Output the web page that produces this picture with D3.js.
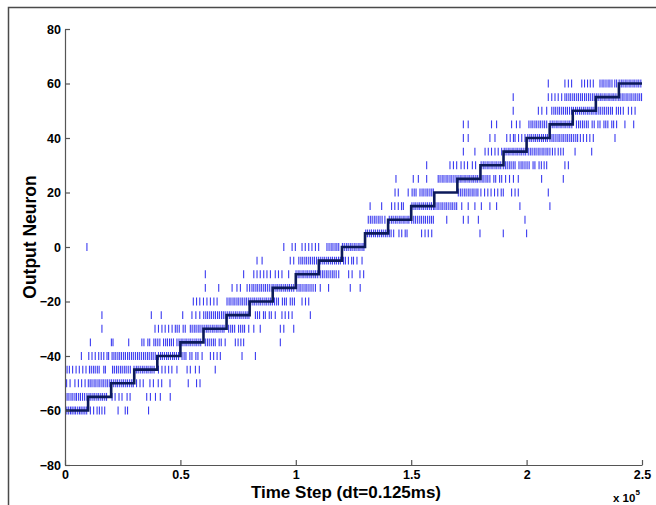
<!DOCTYPE html>
<html>
<head>
<meta charset="utf-8">
<script src="https://cdn.jsdelivr.net/npm/d3@7/dist/d3.min.js"></script>
<style>
  html, body { margin: 0; padding: 0; background: #fff; }
  svg { display: block; }
  text { font-family: "Liberation Sans", Arial, Helvetica, sans-serif; font-weight: bold; fill: #000; }
</style>
</head>
<body>
<svg id="chart" width="656" height="505"></svg>
<script>
// Spike times per output neuron, in thousands of time steps
const n_m60 = [0.8, 1.6, 2.4, 3.1, 3.9, 4.6, 5.5, 6.3, 7.0, 7.8, 8.6, 9.4, 11.0, 12.4, 13.9, 14.9, 16.0, 17.2, 23.0, 26.1, 27.1, 36.2];
const n_m55 = [0.9, 1.7, 2.6, 3.4, 4.3, 5.0, 5.9, 6.7, 7.6, 8.5, 9.5, 10.4, 11.2, 12.1, 12.9, 13.8, 14.6, 15.5, 16.3, 17.2, 18.0, 20.4, 21.7, 23.4, 24.7, 26.9, 28.2, 35.4, 37.0, 39.2, 41.3, 45.6];
const n_m50 = [0.7, 2.2, 4.3, 5.8, 7.2, 8.7, 10.1, 10.9, 11.7, 12.6, 13.4, 14.3, 15.1, 16.0, 16.8, 17.7, 18.5, 19.4, 20.2, 21.1, 22.0, 22.8, 23.7, 24.6, 25.4, 26.3, 27.1, 28.0, 28.9, 29.6, 31.0, 32.5, 33.9, 36.8, 38.3, 40.4, 41.9, 45.5, 53.4, 57.0, 58.5];
const n_m45 = [0.9, 1.9, 3.3, 4.8, 6.2, 7.7, 9.1, 10.6, 11.4, 12.3, 13.1, 14.0, 14.8, 16.8, 17.5, 20.6, 21.4, 22.3, 23.1, 24.0, 24.8, 25.7, 26.5, 27.4, 28.3, 29.9, 30.9, 31.7, 32.6, 33.5, 34.3, 35.2, 36.0, 36.9, 37.7, 38.6, 40.5, 42.0, 43.4, 44.9, 46.3, 48.5, 52.9, 54.3, 56.5, 58.2, 65.1];
const n_m40 = [7.1, 10.3, 11.7, 13.1, 14.6, 15.7, 16.8, 18.2, 18.9, 20.4, 21.2, 22.0, 22.9, 23.7, 24.5, 25.4, 26.2, 27.1, 27.9, 28.8, 29.6, 30.5, 31.4, 32.2, 33.1, 34.0, 34.8, 35.7, 36.5, 37.4, 38.2, 39.1, 40.5, 41.4, 42.2, 43.1, 44.0, 44.8, 45.7, 46.6, 47.4, 48.3, 49.2, 50.7, 51.6, 52.4, 54.1, 55.0, 56.7, 57.6, 59.4, 63.0, 64.4, 65.9, 67.3, 76.7, 82.5];
const n_m35 = [11.0, 20.1, 20.8, 27.6, 33.3, 34.2, 35.9, 36.7, 38.5, 39.3, 40.2, 41.1, 42.7, 43.6, 44.4, 45.3, 46.1, 47.0, 48.5, 49.4, 50.3, 51.1, 52.0, 52.8, 53.7, 54.5, 55.4, 56.3, 57.1, 58.0, 58.8, 60.8, 61.7, 62.5, 63.4, 64.3, 65.1, 66.8, 67.7, 69.4, 73.8, 75.0, 76.2, 77.4, 93.3];
const n_m30 = [16.0, 39.0, 40.5, 42.0, 43.4, 44.9, 46.4, 47.8, 48.6, 49.5, 51.2, 52.1, 54.3, 55.1, 56.0, 56.8, 57.7, 58.5, 59.4, 60.3, 61.2, 62.0, 62.9, 63.8, 64.6, 65.5, 66.3, 67.2, 68.1, 68.9, 70.9, 71.8, 72.6, 73.5, 75.2, 76.1, 77.0, 77.8, 79.6, 81.8, 84.6, 93.3, 94.8, 99.1];
const n_m25 = [16.0, 37.4, 41.7, 51.0, 55.0, 56.7, 58.4, 60.1, 61.0, 61.8, 62.7, 63.5, 64.4, 65.2, 66.1, 66.9, 67.8, 68.6, 69.4, 70.3, 71.2, 72.0, 72.9, 73.8, 74.6, 75.5, 76.3, 77.2, 78.1, 78.9, 79.7, 82.5, 83.4, 84.3, 86.0, 86.8, 88.5, 89.4, 91.1, 94.0, 95.4, 96.9, 98.4, 106.3];
const n_m20 = [55.6, 57.0, 58.4, 60.0, 61.5, 63.0, 64.5, 65.9, 70.2, 71.1, 71.9, 72.8, 73.6, 74.5, 75.3, 76.2, 77.0, 77.9, 78.7, 79.6, 80.5, 81.4, 82.2, 83.1, 84.0, 84.8, 85.7, 86.6, 87.4, 88.3, 89.1, 89.9, 90.8, 91.7, 92.5, 94.2, 95.1, 95.9, 97.6, 98.5, 99.4, 102.7, 104.2, 105.6];
const n_m15 = [60.8, 66.6, 72.4, 74.5, 76.0, 78.9, 80.0, 81.0, 81.8, 82.7, 83.5, 84.4, 85.2, 86.1, 86.9, 87.8, 88.7, 89.7, 90.5, 91.4, 92.2, 93.1, 93.9, 94.8, 95.6, 96.5, 97.3, 98.2, 99.1, 100.5, 101.4, 102.2, 103.1, 104.0, 104.8, 105.7, 106.6, 107.5, 108.5, 110.6, 114.2, 123.6, 127.9];
const n_m10 = [60.8, 77.4, 81.8, 83.2, 84.6, 86.1, 87.5, 89.0, 91.1, 92.5, 94.0, 96.9, 100.1, 101.0, 101.8, 102.7, 103.5, 104.4, 105.2, 106.1, 106.9, 107.8, 108.6, 109.5, 110.6, 111.5, 112.3, 113.2, 114.0, 114.9, 115.8, 116.6, 117.5, 118.6, 122.9, 124.4, 127.8, 129.4];
const n_m5 = [83.2, 85.4, 97.6, 99.1, 101.3, 102.2, 103.0, 103.9, 104.7, 105.6, 106.4, 107.3, 108.1, 109.0, 109.9, 110.8, 111.7, 112.5, 113.4, 114.2, 115.1, 115.9, 116.8, 117.6, 118.5, 119.3, 120.7, 121.5, 122.8, 124.2, 125.0, 126.5, 128.7];
const n_0 = [9.5, 94.8, 98.4, 99.8, 102.7, 104.1, 105.6, 107.0, 108.5, 109.9, 113.5, 114.4, 115.3, 116.1, 117.0, 117.8, 118.6, 120.2, 121.0, 121.9, 122.7, 123.6, 124.4, 125.3, 126.1, 127.0, 127.8, 128.7, 129.5];
const n_5 = [130.3, 131.1, 132.0, 132.8, 133.7, 134.5, 135.4, 136.2, 137.1, 137.9, 138.8, 139.6, 140.5, 141.3, 142.4, 144.7, 145.9, 147.4, 148.2, 154.5, 156.0, 157.4, 158.9, 179.8, 189.9, 200.0];
const n_10 = [131.4, 132.3, 133.1, 134.0, 134.8, 135.7, 136.5, 137.4, 138.6, 140.5, 141.4, 142.2, 143.1, 143.9, 144.8, 145.6, 146.5, 147.3, 148.2, 149.0, 150.2, 151.1, 151.9, 152.8, 153.7, 154.5, 155.4, 156.2, 157.1, 158.0, 158.8, 159.6, 165.4, 172.6, 174.7, 179.1, 199.3];
const n_15 = [132.2, 137.2, 141.5, 142.9, 144.4, 145.8, 146.6, 150.3, 151.2, 152.0, 152.9, 153.7, 154.6, 155.4, 156.3, 157.1, 158.0, 158.8, 159.7, 160.3, 161.2, 162.0, 162.9, 163.7, 164.6, 165.4, 166.3, 167.2, 168.0, 168.9, 169.7, 171.9, 174.7, 177.6, 180.4, 184.1, 187.0, 197.1, 210.1];
const n_20 = [143.0, 144.4, 148.7, 150.4, 151.3, 152.1, 153.8, 154.7, 155.5, 156.4, 157.2, 158.1, 158.9, 159.6, 170.4, 171.3, 172.1, 173.0, 173.8, 174.7, 175.5, 176.4, 177.2, 178.1, 178.9, 180.2, 181.8, 183.2, 184.6, 186.1, 187.5, 189.0, 189.9, 193.5, 195.0, 196.4, 209.4];
const n_25 = [143.4, 150.9, 153.1, 156.7, 161.7, 162.5, 163.4, 164.2, 165.1, 165.9, 166.8, 167.6, 168.5, 169.4, 170.3, 171.2, 172.0, 172.9, 173.7, 174.6, 175.4, 176.3, 177.1, 178.0, 178.8, 179.8, 180.7, 181.5, 182.4, 183.2, 184.1, 185.8, 186.6, 188.3, 189.2, 190.9, 192.6, 194.3, 196.4, 206.5, 215.9];
const n_30 = [156.7, 166.8, 168.3, 169.7, 171.6, 173.0, 174.4, 176.5, 177.9, 180.3, 181.2, 182.0, 182.9, 183.7, 184.6, 185.4, 186.3, 187.1, 188.0, 188.8, 189.9, 190.8, 191.6, 192.5, 193.3, 194.2, 195.0, 196.7, 197.6, 198.4, 199.3, 200.2, 201.1, 202.8, 203.6, 205.4, 206.4, 207.6, 208.7, 216.6, 218.1];
const n_35 = [172.6, 177.6, 182.0, 183.4, 184.8, 186.3, 187.7, 189.2, 190.3, 191.1, 192.0, 192.8, 193.7, 194.5, 195.4, 196.2, 197.1, 197.9, 198.8, 199.6, 200.7, 201.6, 202.4, 203.3, 204.1, 205.0, 205.8, 206.7, 207.5, 208.4, 209.2, 210.1, 211.2, 212.3, 213.7, 214.8, 215.9, 221.0, 228.2];
const n_40 = [172.6, 174.7, 184.1, 186.3, 191.4, 192.9, 194.3, 195.0, 196.5, 197.9, 199.3, 200.5, 201.4, 202.2, 203.1, 203.9, 204.8, 205.6, 206.5, 207.3, 208.2, 209.0, 210.1, 211.0, 211.8, 212.7, 213.6, 214.4, 215.3, 216.1, 217.0, 217.8, 218.7, 219.5, 220.4, 221.3, 222.1, 223.3, 224.6, 226.0, 227.4, 228.9, 238.3];
const n_45 = [172.6, 174.7, 184.8, 187.0, 193.5, 195.6, 197.1, 201.0, 201.9, 202.7, 203.6, 204.4, 205.3, 206.1, 207.0, 207.8, 208.7, 210.2, 211.1, 211.9, 212.8, 213.6, 214.5, 215.3, 216.2, 217.0, 217.9, 218.7, 219.6, 221.6, 222.5, 223.3, 224.2, 225.0, 225.9, 226.7, 228.4, 229.3, 230.9, 231.8, 233.5, 234.3, 235.2, 236.9, 237.7, 239.0, 242.6, 246.4];
const n_50 = [194.2, 205.1, 206.6, 208.7, 210.9, 211.8, 212.6, 213.5, 214.3, 215.2, 216.0, 216.9, 217.7, 218.6, 219.5, 220.3, 221.2, 222.0, 222.9, 223.7, 224.6, 225.4, 226.3, 227.1, 228.0, 228.8, 229.7, 230.4, 231.3, 232.1, 233.0, 233.8, 234.7, 235.5, 236.4, 237.2, 238.9, 239.8, 240.7, 241.9, 244.1, 245.5, 247.0];
const n_55 = [194.2, 209.4, 210.9, 212.3, 213.7, 215.2, 216.6, 217.4, 218.3, 219.1, 220.0, 220.8, 221.7, 222.5, 223.4, 224.2, 225.1, 225.9, 226.8, 227.6, 228.5, 229.3, 230.2, 231.0, 231.9, 232.7, 233.6, 234.4, 235.3, 236.1, 237.0, 237.8, 238.7, 239.7, 240.5, 241.4, 242.2, 243.1, 243.9, 244.8, 245.6, 246.5, 247.3, 248.2, 249.0, 249.8];
const n_60 = [209.4, 216.6, 218.1, 219.5, 223.9, 225.1, 226.4, 227.6, 228.9, 231.8, 232.7, 233.5, 234.4, 235.3, 236.1, 237.0, 238.2, 239.0, 240.1, 241.0, 241.8, 242.7, 243.5, 244.4, 245.2, 246.1, 246.9, 247.8, 248.6, 249.5];

const neuronIds = [-60, -55, -50, -45, -40, -35, -30, -25, -20, -15, -10, -5, 0, 5, 10, 15, 20, 25, 30, 35, 40, 45, 50, 55, 60];
const neuronSpikes = [n_m60, n_m55, n_m50, n_m45, n_m40, n_m35, n_m30, n_m25, n_m20, n_m15, n_m10, n_m5, n_0, n_5, n_10, n_15, n_20, n_25, n_30, n_35, n_40, n_45, n_50, n_55, n_60];

// Target neuron staircase: each level held for 10k time steps
const stepStart = [0, 10, 20, 30, 40, 50, 60, 70, 80, 90, 100, 110, 120, 130, 140, 150, 160, 170, 180, 190, 200, 210, 220, 230, 240];
const stepNeuron = [-60, -55, -50, -45, -40, -35, -30, -25, -20, -15, -10, -5, 0, 5, 10, 15, 20, 25, 30, 35, 40, 45, 50, 55, 60];
const stepEnd = 250;

// Axis ticks
const xTicks = [0, 50, 100, 150, 200, 250];
const xTickLabels = ["0", "0.5", "1", "1.5", "2", "2.5"];
const yTicks = [-80, -60, -40, -20, 0, 20, 40, 60, 80];

const svg = d3.select("#chart");
const plotLeft = 65, plotRight = 642, plotTop = 29, plotBottom = 465;

const x = d3.scaleLinear().domain([0, 250]).range([plotLeft, plotRight]);
const y = d3.scaleLinear().domain([-80, 80]).range([plotBottom, plotTop]);

// Figure frame
svg.append("path")
  .attr("d", `M8.5,505 V7.5 H656`)
  .attr("fill", "none").attr("stroke", "#4a4a4a").attr("stroke-width", 1.5);

// Spike raster
const spikes = [];
neuronIds.forEach((n, i) => neuronSpikes[i].forEach(t => spikes.push({ n, t })));

svg.append("g").selectAll("line").data(spikes).join("line")
  .attr("x1", d => x(d.t))
  .attr("x2", d => x(d.t))
  .attr("y1", d => y(d.n + 1.45))
  .attr("y2", d => y(d.n - 1.45))
  .attr("stroke", "#3b3bf0")
  .attr("stroke-width", 1.1);

// Staircase
const stairs = stepStart.map((s, i) => [s, stepNeuron[i]]);
stairs.push([stepEnd, stepNeuron[stepNeuron.length - 1]]);
svg.append("path")
  .datum(stairs)
  .attr("d", d3.line().x(d => x(d[0])).y(d => y(d[1])).curve(d3.curveStepAfter))
  .attr("fill", "none")
  .attr("stroke", "#0c1a5a")
  .attr("stroke-width", 2.6);

// Axes
const axisColor = "#555";
const gx = svg.append("g").attr("transform", `translate(0,${plotBottom})`)
  .call(d3.axisBottom(x).tickValues(xTicks).tickFormat((d, i) => xTickLabels[i])
    .tickSizeInner(-5).tickSizeOuter(0).tickPadding(5));
const gy = svg.append("g").attr("transform", `translate(${plotLeft},0)`)
  .call(d3.axisLeft(y).tickValues(yTicks).tickFormat(d => d < 0 ? "\u2212" + Math.abs(d) : String(d))
    .tickSizeInner(-5).tickSizeOuter(0).tickPadding(4));

[gx, gy].forEach(g => {
  g.select(".domain").attr("stroke", axisColor).attr("stroke-width", 1.2);
  g.selectAll(".tick line").attr("stroke", axisColor).attr("stroke-width", 1.2);
  g.selectAll(".tick text")
    .attr("font-family", "Liberation Sans, Arial, sans-serif")
    .attr("font-weight", "bold").attr("font-size", 12.5).attr("fill", "#000");
});

// Axis titles
svg.append("text")
  .attr("x", 346).attr("y", 498)
  .attr("text-anchor", "middle")
  .attr("font-size", 17)
  .text("Time Step (dt=0.125ms)");

svg.append("text")
  .attr("transform", "translate(36,237) rotate(-90)")
  .attr("text-anchor", "middle")
  .attr("font-size", 17.5)
  .text("Output Neuron");

// Exponent marker for the x axis
const ex = svg.append("text").attr("x", 613).attr("y", 502).attr("font-size", 11.5);
ex.append("tspan").text("x 10");
ex.append("tspan").attr("dy", -7).attr("font-size", 8).text("5");
</script>
</body>
</html>
